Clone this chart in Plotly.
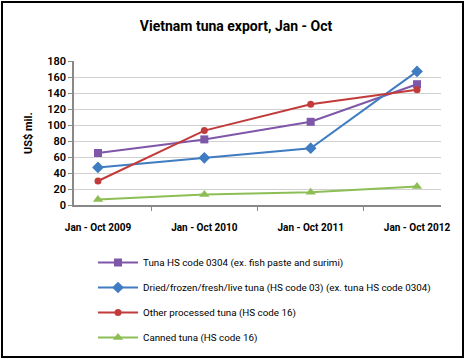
import plotly.graph_objects as go

categories = ["Jan - Oct 2009", "Jan - Oct 2010", "Jan - Oct 2011", "Jan - Oct 2012"]
tuna_0304 = [65, 82, 104, 151]
dried_frozen = [47, 59, 71, 167]
other_processed = [30, 93, 126, 144]
canned = [7, 13, 16, 23]
y_ticks = [0, 20, 40, 60, 80, 100, 120, 140, 160, 180]

names = [
    "Tuna HS code 0304 (ex. fish paste and surimi)",
    "Dried/frozen/fresh/live tuna (HS code 03) (ex. tuna HS code 0304)",
    "Other processed tuna (HS code 16)",
    "Canned tuna (HS code 16)",
]
series = [tuna_0304, dried_frozen, other_processed, canned]
colors = ["#7E57A8", "#3F7CC2", "#C23B3B", "#8DBE55"]
symbols = ["square", "diamond", "circle", "triangle-up"]
sizes = [8, 9, 7, 9]

FONT = "Roboto, Noto Sans, Liberation Sans, sans-serif"

fig = go.Figure()
for i, (nm, vals) in enumerate(zip(names, series)):
    fig.add_trace(go.Scatter(
        x=categories, y=vals, name=nm, mode="lines+markers",
        line=dict(color=colors[i], width=2),
        marker=dict(symbol=symbols[i], size=sizes[i], color=colors[i]),
        legendgroup=f"g{i}",
    ))

L, R, T, B = 74, 26, 61, 154
W, H = 467, 359
pw = W - L - R
ph = H - T - B

def px(x):
    return (x - L) / pw

def py(y):
    return (H - B - y) / ph

fig.update_layout(
    width=W, height=H,
    margin=dict(l=L, r=R, t=T, b=B, autoexpand=False),
    paper_bgcolor="white", plot_bgcolor="white",
    font=dict(family=FONT, color="#111111"),
    title=dict(text="<b>Vietnam tuna export, Jan - Oct</b>", x=236 / W, xref="container",
               xanchor="center", y=1 - 26 / H, yref="container", yanchor="middle",
               font=dict(size=14, family=FONT, color="black")),
    showlegend=True,
    legend=dict(x=93 / W, y=1 - 248 / H, xref="container", yref="container",
                xanchor="left", yanchor="top",
                font=dict(size=9.8, family=FONT, color="black"),
                tracegroupgap=6, itemwidth=40, bgcolor="rgba(0,0,0,0)"),
    xaxis=dict(type="category", automargin=False, showgrid=False, showline=True,
               linecolor="#888888", tickangle=0,
               linewidth=1.5, ticks="outside", tickson="boundaries", ticklen=4,
               tickcolor="#888888",
               tickfont=dict(size=10, family=FONT, color="black", weight="bold"),
               ticklabelstandoff=12),
    yaxis=dict(range=[0, 180], automargin=False, tickvals=y_ticks, showgrid=True,
               gridcolor="#D0D0D0",
               gridwidth=1.2, showline=True, linecolor="#888888", linewidth=1.5,
               ticks="outside", ticklen=4, tickcolor="#888888", zeroline=False,
               tickfont=dict(size=11, family=FONT, color="black", weight=600)),
)

fig.add_annotation(text="<b>US$ mil.</b>", xref="paper", yref="paper",
                   x=px(28), y=py(133), textangle=-90, showarrow=False,
                   xanchor="center", yanchor="middle",
                   font=dict(size=11, family=FONT, color="black"))

fig.add_shape(type="rect", xref="paper", yref="paper",
              x0=px(2), x1=px(463), y0=py(357), y1=py(2),
              line=dict(color="black", width=2), fillcolor="rgba(0,0,0,0)", layer="above")

fig.write_html("out.html", config={"displayModeBar": False},
               post_script="document.body.style.margin='0px';")
